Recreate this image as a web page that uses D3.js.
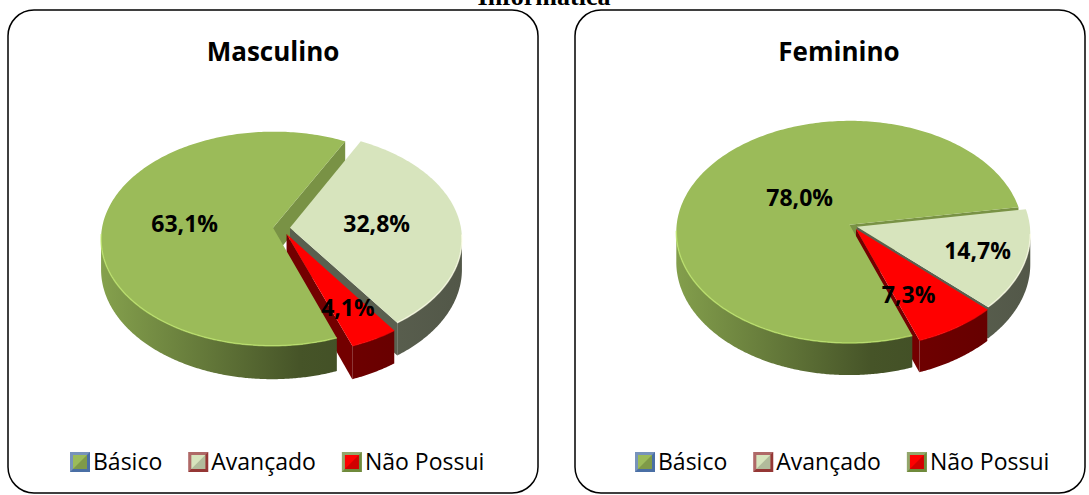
<!DOCTYPE html>
<html>
<head>
<meta charset="utf-8">
<script src="https://cdn.jsdelivr.net/npm/d3@7"></script>
<style>
    body { margin: 0; background: #fff; }
    svg { display: block; }
</style>
</head>
<body>
<svg id="main" width="1089" height="495"></svg>
<script>
const width = 1089;
const height = 495;

const chartTitle = 'Informática';
const panelTitles = ['Masculino', 'Feminino'];
const categories = ['Básico', 'Avançado', 'Não Possui'];
const masculino = [63.1, 32.8, 4.1];
const feminino = [78.0, 14.7, 7.3];

const sliceColors = ['#9bbb59', '#d7e4bd', '#ff0000'];
// the original legend draws the frames in other colours
const legendBorders = ['#4a6fa5', '#953735', '#6f8a3b'];
const cutShade = [0.78, 0.42, 0.45];
// side shading from the left edge of the pie to its right edge
const sideStops = [[0, 0.86], [0.55, 0.45], [1, 0.38]];

// per panel geometry of the tilted pie (perspective ellipse)
const panels = [
    {
        x: 8, w: 530, values: masculino, titleX: 273, legendX: 70,
        cx: 281.5, cy: 228, R: 171, aR: 106, k: 0.103, D: 30,
        explode: [8.5, 8.5, 11], labelR: [0.52, 0.51, 0.72], labelShift: [0, 0, 0]
    },
    {
        x: 575, w: 510, values: feminino, titleX: 839, legendX: 635,
        cx: 853, cy: 226, R: 173, aR: 110.8, k: 0.065, D: 30,
        explode: [4, 4, 5.5], labelR: [0.38, 0.72, 0.64], labelShift: [9, 0, 6]
    }
];

const svg = d3.select('#main');
const defs = svg.append('defs');
const rad = Math.PI / 180;
const line = d3.line();

function shade(c, f) {
    const r = d3.rgb(c);
    return d3.rgb(r.r * f, r.g * f, r.b * f).formatHex();
}

function area(pts) {
    let s = 0;
    for (let i = 0; i < pts.length; i++) {
        const a = pts[i], b = pts[(i + 1) % pts.length];
        s += a[0] * b[1] - b[0] * a[1];
    }
    return s;
}

// main title (cut off at the top in the original)
svg.append('text')
    .attr('x', 544)
    .attr('y', 5)
    .attr('text-anchor', 'middle')
    .attr('font-family', 'Liberation Serif, serif')
    .attr('font-weight', 'bold')
    .attr('font-size', 26)
    .text(chartTitle);

panels.forEach((p, pi) => {
    const g = svg.append('g');

    g.append('rect')
        .attr('x', p.x)
        .attr('y', 10)
        .attr('width', p.w)
        .attr('height', 483)
        .attr('rx', 26)
        .attr('fill', 'none')
        .attr('stroke', '#000')
        .attr('stroke-width', 1.5);

    g.append('text')
        .attr('x', p.titleX)
        .attr('y', 61)
        .attr('text-anchor', 'middle')
        .attr('font-family', 'Open Sans')
        .attr('font-weight', 'bold')
        .attr('font-size', 26)
        .text(panelTitles[pi]);

    // one horizontal gradient per slice colour for the outer side
    sliceColors.forEach((c, i) => {
        const grad = defs.append('linearGradient')
            .attr('id', `side-${pi}-${i}`)
            .attr('gradientUnits', 'userSpaceOnUse')
            .attr('x1', p.cx - p.R - 10).attr('x2', p.cx + p.R + 10)
            .attr('y1', 0).attr('y2', 0);
        grad.selectAll('stop')
            .data(sideStops)
            .join('stop')
            .attr('offset', d => d[0])
            .attr('stop-color', d => shade(c, d[1]));
    });

    const a = p.aR / p.R;
    const P = (u, f, h) => {
        const s = 1 / (1 - p.k * f / p.R);
        return [p.cx + u * s, p.cy + (a * f + h * p.D) * s];
    };

    const start = 160 * rad;
    const pie = d3.pie()
        .sort(null)
        .value(d => d)
        .startAngle(start)
        .endAngle(start + 2 * Math.PI);
    const arcs = pie(p.values);

    const faces = [];
    const tops = [];

    arcs.forEach((d, i) => {
        const a0 = d.startAngle, a1 = d.endAngle;
        const bis = (a0 + a1) / 2;
        const e = p.explode[i];
        const eu = e * Math.sin(bis), ef = -e * Math.cos(bis);
        const pt = (t, r, h) => P(r * Math.sin(t) + eu, -r * Math.cos(t) + ef, h);
        const depth = (t, r) => -r * Math.cos(t) + ef;
        d.pt = pt;

        // outer side: merge visible steps into runs
        const n = Math.ceil((a1 - a0) / (0.5 * rad));
        let run = null;
        const runs = [];
        for (let j = 0; j < n; j++) {
            const t0 = a0 + (j * (a1 - a0)) / n;
            const t1 = a0 + ((j + 1) * (a1 - a0)) / n;
            const poly = [pt(t0, p.R, 0), pt(t1, p.R, 0), pt(t1, p.R, 1), pt(t0, p.R, 1)];
            if (area(poly) < 0) {
                if (!run) { run = [t0]; runs.push(run); }
                run.push(t1);
            } else {
                run = null;
            }
        }
        runs.forEach(ts => {
            const topPts = ts.map(t => pt(t, p.R, 0));
            const botPts = ts.map(t => pt(t, p.R, 1)).reverse();
            const mid = ts[Math.floor(ts.length / 2)];
            faces.push({
                poly: topPts.concat(botPts),
                z: depth(mid, p.R),
                fill: `url(#side-${pi}-${i})`
            });
        });

        // cut faces
        const cs = [pt(a0, 0, 0), pt(a0, p.R, 0), pt(a0, p.R, 1), pt(a0, 0, 1)];
        const ce = [pt(a1, 0, 0), pt(a1, 0, 1), pt(a1, p.R, 1), pt(a1, p.R, 0)];
        [[cs, a0], [ce, a1]].forEach(([poly, t]) => {
            if (area(poly) < 0) {
                faces.push({ poly, z: depth(t, p.R / 2), fill: shade(sliceColors[i], cutShade[i]) });
            }
        });

        // top face
        const m = Math.ceil((a1 - a0) / rad);
        const top = [pt(0, 0, 0)];
        const rim = [];
        for (let j = 0; j <= m; j++) {
            const t = a0 + (j * (a1 - a0)) / m;
            top.push(pt(t, p.R, 0));
            if (Math.cos(t) < -0.05) rim.push(pt(t, p.R, 0));
        }
        tops.push({ poly: top, rim, fill: sliceColors[i] });
    });

    faces.sort((x, y) => x.z - y.z);
    const pieG = g.append('g');
    pieG.selectAll('path.side')
        .data(faces)
        .join('path')
        .attr('class', 'side')
        .attr('d', d => line(d.poly) + 'Z')
        .attr('fill', d => d.fill);

    pieG.selectAll('path.top')
        .data(tops)
        .join('path')
        .attr('class', 'top')
        .attr('d', d => line(d.poly) + 'Z')
        .attr('fill', d => d.fill);

    pieG.selectAll('path.rim')
        .data(tops.filter(d => d.rim.length > 1))
        .join('path')
        .attr('class', 'rim')
        .attr('d', d => line(d.rim))
        .attr('fill', 'none')
        .attr('stroke', d => d3.rgb(d.fill).brighter(0.6))
        .attr('stroke-opacity', 0.7)
        .attr('stroke-width', 1.5);

    // percentage labels
    pieG.selectAll('text')
        .data(arcs)
        .join('text')
        .attr('transform', (d, i) => {
            const t = (d.startAngle + d.endAngle) / 2 + p.labelShift[i] * rad;
            const c = d.pt(t, p.labelR[i] * p.R, 0);
            return `translate(${c[0]},${c[1]})`;
        })
        .attr('text-anchor', 'middle')
        .attr('dy', '0.35em')
        .attr('font-family', 'Open Sans')
        .attr('font-weight', 'bold')
        .attr('font-size', 23)
        .text(d => d.data.toFixed(1).replace('.', ',') + '%');

    // legend
    let lx = p.legendX;
    categories.forEach((c, i) => {
        const item = g.append('g').attr('transform', `translate(${lx},452)`);
        item.append('rect')
            .attr('width', 20).attr('height', 20)
            .attr('fill', legendBorders[i]);
        item.append('rect')
            .attr('x', 3).attr('y', 3).attr('width', 14).attr('height', 14)
            .attr('fill', sliceColors[i]);
        item.append('path')
            .attr('d', 'M17,3L17,17L3,17Z')
            .attr('fill', shade(sliceColors[i], 0.7))
            .attr('opacity', 0.6);
        item.append('path')
            .attr('d', 'M0,0L20,0L17,3L3,3L3,17L0,20Z')
            .attr('fill', '#fff')
            .attr('opacity', 0.25);
        const txt = item.append('text')
            .attr('x', 23)
            .attr('y', 18)
            .attr('font-family', 'Open Sans')
            .attr('font-size', 23)
            .text(c);
        lx += 23 + txt.node().getComputedTextLength() + 26;
    });
});
</script>
</body>
</html>
